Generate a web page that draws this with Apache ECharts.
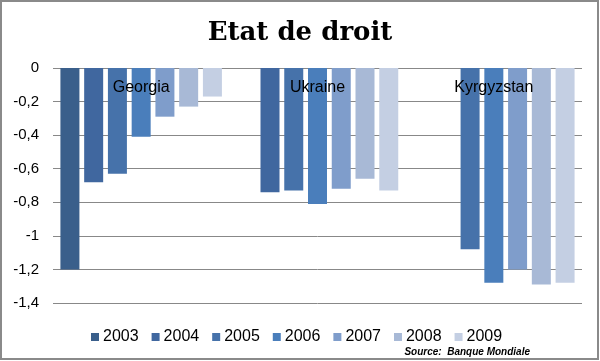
<!DOCTYPE html>
<html>
<head>
<meta charset="utf-8">
<script src="https://cdn.jsdelivr.net/npm/echarts@6/dist/echarts.min.js"></script>
<style>
html,body{margin:0;padding:0;background:#fff;}
#c{width:600px;height:361px;}
</style>
</head>
<body>
<div id="c"></div>
<script>
var categories = ['Georgia', 'Ukraine', 'Kyrgyzstan'];
var years = ['2003', '2004', '2005', '2006', '2007', '2008', '2009'];
var v2003 = [-1.20, null, null];
var v2004 = [-0.68, -0.74, null];
var v2005 = [-0.63, -0.73, -1.08];
var v2006 = [-0.41, -0.81, -1.28];
var v2007 = [-0.29, -0.72, -1.20];
var v2008 = [-0.23, -0.66, -1.29];
var v2009 = [-0.17, -0.73, -1.28];
var seriesValues = [v2003, v2004, v2005, v2006, v2007, v2008, v2009];
var colors = ['#3a5f8b', '#40679f', '#4672aa', '#4a7ebb', '#7f9dcb', '#a8b9d6', '#c4cfe3'];

var chart = echarts.init(document.getElementById('c'), null, {renderer: 'canvas'});
var series = years.map(function (y, i) {
  return {
    name: y,
    type: 'bar',
    data: seriesValues[i],
    barWidth: 19,
    barGap: '25%',
    z: 2,
    itemStyle: {color: colors[i]}
  };
});
chart.setOption({
  animation: false,
  color: colors,
  title: {
    text: 'Etat de droit',
    left: 'center',
    top: 15,
    textStyle: {fontFamily: 'DejaVu Serif', fontWeight: 'bold', fontSize: 26, color: '#000'}
  },
  grid: {left: 53, right: 18, top: 68, bottom: 58},
  legend: {
    data: years,
    left: 86,
    top: 324,
    icon: 'rect',
    itemWidth: 8,
    itemHeight: 8,
    itemGap: 13,
    textStyle: {fontFamily: 'Liberation Sans', fontSize: 16, color: '#000', padding: [0, 0, 0, -1]}
  },
  xAxis: {
    type: 'category',
    data: categories,
    position: 'top',
    z: 10,
    axisLine: {show: false},
    axisTick: {show: false},
    axisLabel: {inside: true, margin: 12, fontFamily: 'Liberation Sans', fontSize: 16, color: '#000'}
  },
  yAxis: {
    type: 'value',
    min: -1.4,
    max: 0,
    interval: 0.2,
    z: 0,
    axisLine: {show: false},
    axisTick: {show: false},
    splitLine: {lineStyle: {color: '#888888', width: 1}},
    axisLabel: {
      margin: 14,
      fontFamily: 'Liberation Sans',
      fontSize: 15,
      color: '#000',
      formatter: function (v) { return String(+v.toFixed(1)).replace('.', ','); }
    }
  },
  graphic: [
    {type: 'rect', shape: {x: 1, y: 1, width: 597, height: 358}, style: {fill: 'none', stroke: '#8a8a8a', lineWidth: 2}, silent: true},
    {type: 'text', right: 70, top: 347, style: {text: 'Source:  Banque Mondiale', fontFamily: 'Liberation Sans', fontWeight: 'bold', fontStyle: 'italic', fontSize: 10, fill: '#000'}}
  ],
  series: series
});
</script>
</body>
</html>
